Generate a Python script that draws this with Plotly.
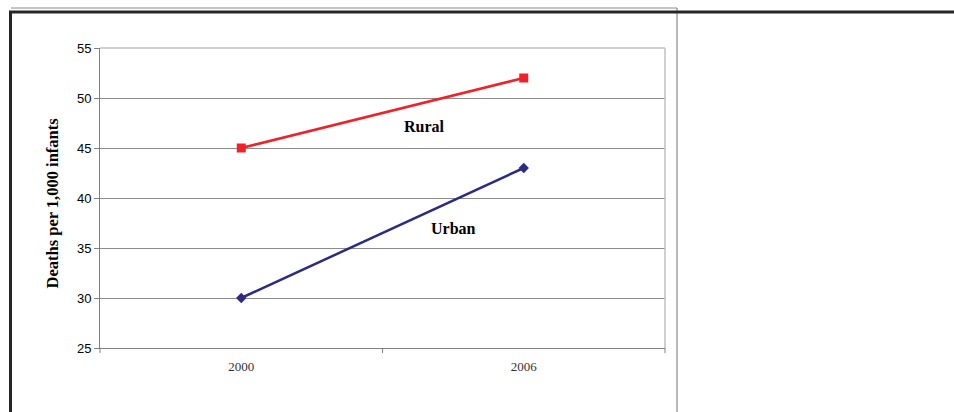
import plotly.graph_objects as go

years = ["2000", "2006"]
rural = [45, 52]
urban = [30, 43]
y_ticks = [25, 30, 35, 40, 45, 50, 55]

W, H = 954, 412
def px(x):
    return x / W
def py(y):
    return 1 - y / H

fig = go.Figure()
fig.add_trace(go.Scatter(
    x=[0, 1], y=rural, mode="lines+markers",
    line=dict(color="#ee2228", width=2.5),
    marker=dict(symbol="square", size=9, color="#ee2228"),
    showlegend=False, hoverinfo="skip"))
fig.add_trace(go.Scatter(
    x=[0, 1], y=urban, mode="lines+markers",
    line=dict(color="#2b2b80", width=2.5),
    marker=dict(symbol="diamond", size=8, color="#2b2b80"),
    showlegend=False, hoverinfo="skip"))

fig.update_layout(
    width=W, height=H, autosize=False,
    margin=dict(l=0, r=0, t=0, b=0, pad=0, autoexpand=False),
    paper_bgcolor="white", plot_bgcolor="white",
    xaxis=dict(
        domain=[px(100), px(665)],
        range=[-0.5, 1.5], automargin=False,
        tickmode="array", tickvals=[0, 1], ticktext=years,
        showgrid=False, zeroline=False,
        showline=True, linecolor="#808080", linewidth=1,
        ticks="", ticklabelstandoff=6,
        tickfont=dict(family="Liberation Serif", size=13, color="#333333"),
    ),
    yaxis=dict(
        domain=[py(348), py(48)],
        range=[25, 55], automargin=False,
        tickmode="array", tickvals=y_ticks,
        showgrid=True, gridcolor="#8c8c8c", gridwidth=1,
        zeroline=False,
        showline=True, linecolor="#808080", linewidth=1,
        ticks="outside", ticklen=5, tickcolor="#808080",
        tickfont=dict(family="Liberation Sans", size=13, color="#000000"),
    ),
)

shapes = []
# plot area border (top and right, light gray)
shapes.append(dict(type="line", xref="paper", yref="paper",
                   x0=px(100), x1=px(665), y0=py(48), y1=py(48),
                   line=dict(color="#c0c0c0", width=1.5)))
shapes.append(dict(type="line", xref="paper", yref="paper",
                   x0=px(665), x1=px(665), y0=py(48), y1=py(348),
                   line=dict(color="#c0c0c0", width=1.5)))
# category boundary ticks on x-axis
for bx in [100, 382.5, 665]:
    shapes.append(dict(type="line", xref="paper", yref="paper",
                       x0=px(bx), x1=px(bx), y0=py(348), y1=py(353),
                       line=dict(color="#808080", width=1)))
# outer gray frame
shapes.append(dict(type="line", xref="paper", yref="paper",
                   x0=px(11), x1=px(677), y0=py(8), y1=py(8),
                   line=dict(color="#8a8a8a", width=1.2)))
shapes.append(dict(type="line", xref="paper", yref="paper",
                   x0=px(677), x1=px(677), y0=py(8), y1=py(412),
                   line=dict(color="#8a8a8a", width=1.2)))
# thick black frame
shapes.append(dict(type="line", xref="paper", yref="paper",
                   x0=px(9), x1=px(954), y0=py(12), y1=py(12),
                   line=dict(color="#262626", width=3)))
shapes.append(dict(type="line", xref="paper", yref="paper",
                   x0=px(10.5), x1=px(10.5), y0=py(11), y1=py(412),
                   line=dict(color="#262626", width=3)))
fig.update_layout(shapes=shapes)

fig.add_annotation(x=0.647, y=47.1, xref="x", yref="y", text="<b>Rural</b>",
                   showarrow=False,
                   font=dict(family="Liberation Serif", size=16, color="#000000"))
fig.add_annotation(x=0.753, y=36.9, xref="x", yref="y", text="<b>Urban</b>",
                   showarrow=False,
                   font=dict(family="Liberation Serif", size=16, color="#000000"))
fig.add_annotation(x=px(40), y=py(203), xref="paper", yref="paper",
                   text="<b>Deaths per 1,000 infants</b>", textangle=-90,
                   showarrow=False,
                   font=dict(family="Liberation Serif", size=16.5, color="#000000"))

fig.write_html("out.html")
